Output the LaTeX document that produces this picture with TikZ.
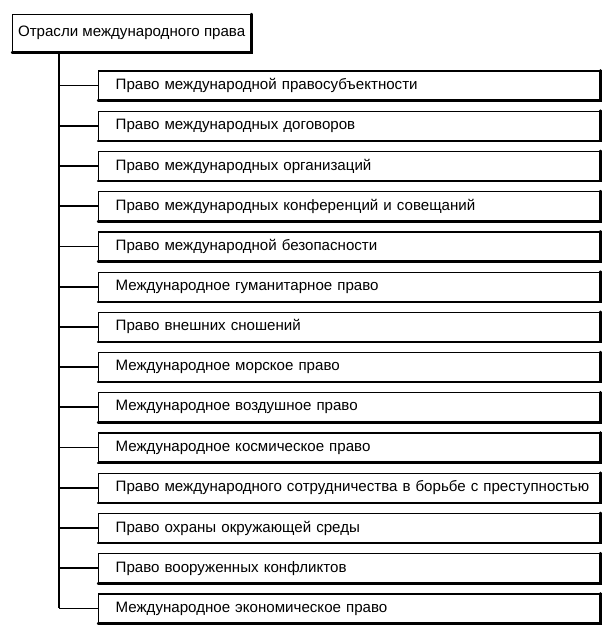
\documentclass[tikz,border=0pt]{standalone}
\usepackage{fontspec}
\setmainfont{Liberation Sans}
\begin{document}
\begin{tikzpicture}[x=1pt,y=1pt,
  box/.style={draw, line width=1.3pt, anchor=west, text width=495pt, align=left, inner xsep=3pt, minimum height=29pt, inner ysep=0pt, font=\fontsize{15.1}{17}\selectfont},
  topbox/.style={draw, line width=1.3pt, anchor=north west, minimum width=238pt, minimum height=37pt, inner xsep=3pt, font=\fontsize{15.1}{17}\selectfont},
  conn/.style={line width=1.7pt},
  shade/.style={line width=2.4pt, line cap=round}]
\useasboundingbox (0,0) rectangle (614,-635);
\node[topbox] (top) at (12,-14) {Отрасли международного права};
\draw[shade] (top.south west) -- (top.south east) -- (top.north east);
\coordinate (vtop) at (59,-51);
\foreach \i/\t in {1/Право международной правосубъектности,
  2/Право международных договоров,
  3/Право международных организаций,
  4/Право международных конференций и совещаний,
  5/Право международной безопасности,
  6/Международное гуманитарное право,
  7/Право внешних сношений,
  8/Международное морское право,
  9/Международное воздушное право,
  10/Международное космическое право,
  11/Право международного сотрудничества в борьбе с преступностью,
  12/Право охраны окружающей среды,
  13/Право вооруженных конфликтов,
  14/Международное экономическое право}{
  \node[box] (b\i) at (98,{-85.5-40.23*(\i-1)}) {\hspace*{14pt}\t};
  \draw[shade] (b\i.south west) -- (b\i.south east) -- (b\i.north east);
  \coordinate (j\i) at (59,{-85.5-40.23*(\i-1)});
  \draw[conn] (j\i) -- (b\i.west);
}
\draw[conn] (vtop) -- (j14);
\end{tikzpicture}
\end{document}
